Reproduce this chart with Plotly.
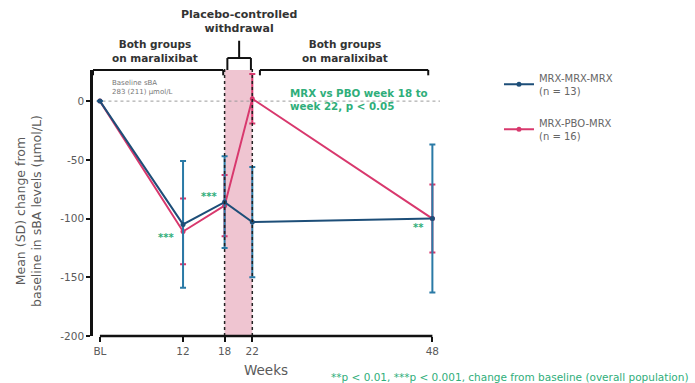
import plotly.graph_objects as go

# Study visits (weeks) and tick labels
weeks = [0, 12, 18, 22, 48]
week_labels = ["BL", "12", "18", "22", "48"]

# Mean (SD) change from baseline in sBA (µmol/L)
mrx_mean = [0, -105, -86, -103, -100]
mrx_sd = [0, 54, 39, 47, 63]
pbo_mean = [0, -111, -89, 2, -100]
pbo_sd = [0, 28, 26, 21, 29]

y_ticks = [0, -50, -100, -150, -200]
y_tick_labels = [str(v) for v in y_ticks]

NAVY = "#1d4e78"
TEAL = "#2a7aa6"
PINK = "#d8386d"
GREEN = "#2fae7a"
GREY = "#5a5a5a"
FONT = "DejaVu Sans"

fig = go.Figure()

fig.add_trace(go.Scatter(
    x=weeks, y=pbo_mean, name="MRX-PBO-MRX<br>(n = 16)", legendgroup="pbo", legendrank=2,
    mode="lines+markers",
    line=dict(color=PINK, width=2),
    marker=dict(color=PINK, size=5),
    error_y=dict(type="data", array=pbo_sd, color=PINK, thickness=2, width=3),
))
fig.add_trace(go.Scatter(
    x=weeks, y=mrx_mean, name="MRX-MRX-MRX<br>(n = 13)", legendgroup="mrx", legendrank=1,
    mode="lines+markers",
    line=dict(color=NAVY, width=2),
    marker=dict(color=NAVY, size=5),
    error_y=dict(type="data", array=mrx_sd, color=TEAL, thickness=2, width=3),
))

shapes = []
# placebo-controlled withdrawal window
shapes.append(dict(type="rect", xref="x", yref="paper", x0=18, x1=22, y0=0, y1=1,
                   fillcolor="rgba(226,150,172,0.55)", line=dict(width=0), layer="below"))
for wx in (18, 22):
    shapes.append(dict(type="line", xref="x", yref="paper", x0=wx, x1=wx, y0=0, y1=1.01,
                       line=dict(color="#222", width=1.5, dash="dot")))
# baseline reference line
shapes.append(dict(type="line", xref="paper", yref="y", x0=0.01, x1=1, y0=0, y1=0,
                   line=dict(color="#9a9a9a", width=1, dash="dot"), layer="below"))
# x axis line, starting at baseline
shapes.append(dict(type="line", xref="x", yref="paper", x0=0, x1=48, y0=0, y1=0,
                   line=dict(color="#111", width=2.5)))

# treatment-period brackets
def bracket(x0, x1, y, drop, tick_up=None):
    out = [
        dict(type="line", xref="x", yref="paper", x0=x0, x1=x1, y0=y, y1=y,
             line=dict(color="#111", width=2)),
        dict(type="line", xref="x", yref="paper", x0=x0, x1=x0, y0=y, y1=y - drop,
             line=dict(color="#111", width=2)),
        dict(type="line", xref="x", yref="paper", x0=x1, x1=x1, y0=y, y1=y - drop,
             line=dict(color="#111", width=2)),
    ]
    if tick_up:
        xm = (x0 + x1) / 2
        out.append(dict(type="line", xref="x", yref="paper", x0=xm, x1=xm, y0=y, y1=y + tick_up,
                        line=dict(color="#111", width=2)))
    return out

shapes += bracket(-1, 17.8, 1.0, 0.02)
shapes += bracket(18.4, 21.8, 1.045, 0.045, tick_up=0.065)
shapes += bracket(23.1, 47.4, 1.0, 0.02)

annotations = [
    dict(x=7.9, y=1.015, xref="x", yref="paper", yanchor="bottom", showarrow=False,
         text="<b>Both groups<br>on maralixibat</b>", font=dict(size=10.5, color="#333", family=FONT)),
    dict(x=35.4, y=1.015, xref="x", yref="paper", yanchor="bottom", showarrow=False,
         text="<b>Both groups<br>on maralixibat</b>", font=dict(size=10.5, color="#333", family=FONT)),
    dict(x=20.1, y=1.125, xref="x", yref="paper", yanchor="bottom", showarrow=False,
         text="<b>Placebo-controlled<br>withdrawal</b>", font=dict(size=11, color="#333", family=FONT)),
    dict(x=1.5, y=3, xref="x", yref="y", xanchor="left", yanchor="bottom", showarrow=False, align="left",
         text="Baseline sBA<br>283 (211) µmol/L", font=dict(size=7, color="#777", family=FONT)),
    dict(x=27.2, y=1, xref="x", yref="y", xanchor="left", yanchor="middle", showarrow=False, align="left",
         text="<b>MRX vs PBO week 18 to<br>week 22, p < 0.05</b>", font=dict(size=10.3, color=GREEN, family=FONT)),
    dict(x=9.6, y=-116, xref="x", yref="y", showarrow=False,
         text="<b>***</b>", font=dict(size=10, color=GREEN, family=FONT)),
    dict(x=15.8, y=-81, xref="x", yref="y", showarrow=False,
         text="<b>***</b>", font=dict(size=10, color=GREEN, family=FONT)),
    dict(x=46.0, y=-108, xref="x", yref="y", showarrow=False,
         text="<b>**</b>", font=dict(size=10, color=GREEN, family=FONT)),
    dict(x=-0.235, y=0.47, xref="paper", yref="paper", textangle=-90, showarrow=False,
         text="Mean (SD) change from<br>baseline in sBA levels (µmol/L)",
         font=dict(size=12.5, color=GREY, family=FONT)),
    dict(x=24, y=-0.128, xref="x", yref="paper", yanchor="middle", showarrow=False,
         text="Weeks", font=dict(size=13.5, color=GREY, family=FONT)),
    dict(x=1.72, y=-0.155, xref="paper", yref="paper", xanchor="right", yanchor="middle",
         showarrow=False, text="**p < 0.01, ***p < 0.001, change from baseline (overall population)",
         font=dict(size=10.5, color=GREEN, family=FONT)),
]

fig.update_layout(
    width=695, height=383,
    margin=dict(l=93, r=255, t=70, b=47),
    paper_bgcolor="white", plot_bgcolor="white",
    font=dict(family=FONT, color=GREY),
    shapes=shapes, annotations=annotations,
    showlegend=True,
    legend=dict(x=1.17, y=1.02, xanchor="left", yanchor="top", traceorder="grouped",
                font=dict(size=10, color="#666", family=FONT), tracegroupgap=16,
                itemwidth=30, bgcolor="rgba(0,0,0,0)"),
)
fig.update_xaxes(range=[-1, 49.1], tickvals=weeks, ticktext=week_labels,
                 showgrid=False, zeroline=False, showline=False,
                 ticks="outside", ticklen=5, tickwidth=2, tickcolor="#111",
                 tickfont=dict(size=10.5, color=GREY, family=FONT))
fig.update_yaxes(range=[-200, 26.5], tickvals=y_ticks, ticktext=y_tick_labels,
                 showgrid=False, zeroline=False, showline=True, linewidth=2.5, linecolor="#111",
                 ticks="outside", ticklen=4, tickwidth=2, tickcolor="#111",
                 tickfont=dict(size=10.5, color=GREY, family=FONT))

fig.write_html("out.html")
